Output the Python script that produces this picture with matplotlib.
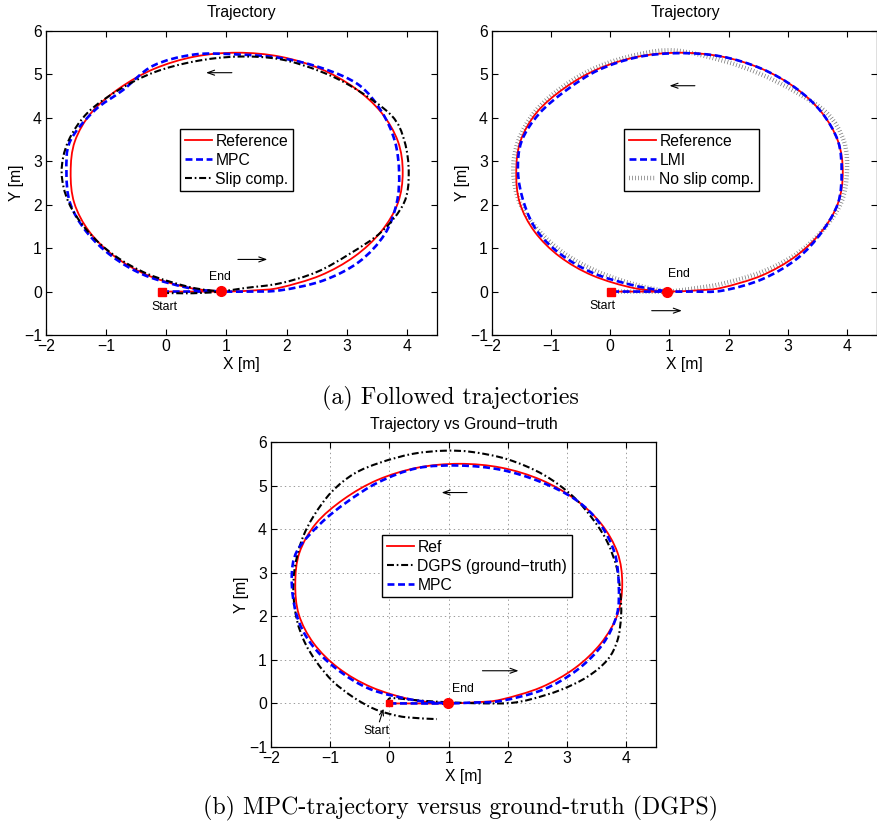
import matplotlib
matplotlib.use("Agg")
import matplotlib.pyplot as plt
from matplotlib.path import Path
from matplotlib.patches import PathPatch
from matplotlib.lines import Line2D

plt.rcParams['font.family'] = ['Liberation Sans', 'DejaVu Sans']
plt.rcParams['lines.scale_dashes'] = False
plt.rcParams['axes.linewidth'] = 0.9

# ---- reference trajectory (shared by all panels) ----
ref_x = [0.0, 0.5, 1.0, 1.5, 1.89, 2.56, 3.13, 3.57, 3.85, 3.93, 3.85, 3.57, 3.13, 2.56,
         1.89, 1.18, 0.47, -0.2, -0.77, -1.24, -1.52, -1.59, -1.53, -1.28, -0.86, -0.3,
         0.4, 1.0]
ref_y = [0.0, 0.0, 0.0, 0.03, 0.09, 0.37, 0.81, 1.38, 2.04, 2.75, 3.46, 4.13, 4.69, 5.13,
         5.41, 5.5, 5.41, 5.13, 4.69, 4.13, 3.46, 2.75, 2.04, 1.38, 0.81, 0.37,
         0.08, 0.0]

# ---- panel (a) left: MPC and slip compensation ----
mpc1_x = [-0.07, 0.4, 0.9, 1.4, 1.9, 2.6, 3.2, 3.63, 3.83, 3.87, 3.8, 3.58, 3.2, 2.58,
          1.89, 1.18, 0.47, -0.22, -0.72, -1.2, -1.6, -1.66, -1.6, -1.33, -0.9, -0.35,
          0.38, 0.9]
mpc1_y = [0.0, 0.0, 0.0, 0.0, 0.03, 0.25, 0.68, 1.32, 2.04, 2.75, 3.46, 4.14, 4.76, 5.15,
          5.38, 5.46, 5.46, 5.2, 4.64, 4.16, 3.46, 2.75, 2.04, 1.38, 0.81, 0.37,
          0.08, 0.0]

slip_x = [-0.07, 0.3, 0.6, 0.9, 1.3, 1.89, 2.5, 3.05, 3.58, 3.95, 4.03, 3.96, 3.74, 3.13,
          2.56, 1.89, 1.18, 0.47, -0.2, -0.77, -1.3, -1.63, -1.74, -1.62, -1.3, -0.86,
          -0.3, 0.4, 0.9]
slip_y = [-0.03, -0.04, -0.03, 0.0, 0.08, 0.19, 0.45, 0.87, 1.38, 2.04, 2.72, 3.46, 4.06,
          4.68, 5.07, 5.35, 5.41, 5.3, 5.05, 4.66, 4.13, 3.46, 2.75, 2.04, 1.38, 0.83,
          0.4, 0.1, 0.0]

# ---- panel (a) right: LMI and no slip compensation ----
lmi_x = [0.03, 0.5, 0.97, 1.4, 1.89, 2.56, 3.15, 3.57, 3.85, 3.91, 3.85, 3.57, 3.13, 2.56,
         1.89, 1.18, 0.47, -0.2, -0.74, -1.2, -1.5, -1.56, -1.46, -1.24, -0.84, -0.28,
         0.4, 0.97]
lmi_y = [0.0, 0.0, 0.0, 0.0, 0.02, 0.28, 0.75, 1.36, 2.04, 2.75, 3.46, 4.13, 4.69, 5.13,
         5.41, 5.49, 5.4, 5.1, 4.64, 4.1, 3.46, 2.75, 2.04, 1.4, 0.86, 0.42,
         0.14, 0.0]

noslip_x = [0.03, 0.5, 0.97, 1.4, 1.89, 2.56, 3.13, 3.57, 3.9, 4.0, 3.95, 3.67, 3.13, 2.52,
            1.89, 1.1, 0.47, -0.22, -0.8, -1.27, -1.56, -1.64, -1.53, -1.22, -0.78,
            -0.2, 0.45, 0.97]
noslip_y = [0.0, 0.0, 0.0, 0.07, 0.18, 0.45, 0.85, 1.38, 2.04, 2.75, 3.46, 4.1, 4.6, 5.02,
            5.32, 5.55, 5.46, 5.17, 4.72, 4.15, 3.46, 2.75, 2.04, 1.42, 0.88,
            0.45, 0.15, 0.0]

# ---- panel (b): ground truth and MPC ----
dgps_x = [-0.02, 0.02, 0.4, 0.8, 1.3, 1.7, 2.05, 2.4, 2.89, 3.34, 3.68, 3.85, 3.91, 3.9,
          3.84, 3.68, 3.45, 3.1, 2.6, 2.0, 1.4, 0.93, 0.4, -0.15, -0.6, -0.98, -1.28,
          -1.48, -1.6, -1.62, -1.56, -1.43, -1.22, -0.95, -0.62, -0.3, 0.0, 0.3, 0.8]
dgps_y = [0.0, 0.12, 0.08, 0.04, 0.01, 0.0, 0.01, 0.1, 0.31, 0.61, 1.0, 1.45, 2.0, 2.5,
          3.1, 3.7, 4.2, 4.75, 5.25, 5.6, 5.77, 5.8, 5.73, 5.53, 5.27, 4.85, 4.3,
          3.75, 3.1, 2.5, 1.9, 1.4, 0.93, 0.5, 0.15, -0.1, -0.24, -0.32, -0.36]

mpc2_x = [0.0, 0.5, 0.98, 1.4, 1.89, 2.6, 3.17, 3.6, 3.84, 3.87, 3.8, 3.55, 3.15, 2.56,
          1.89, 1.18, 0.47, -0.18, -0.72, -1.17, -1.56, -1.65, -1.57, -1.33, -0.9, -0.33,
          0.4, 0.98]
mpc2_y = [0.0, 0.0, 0.0, 0.02, 0.06, 0.32, 0.77, 1.36, 2.04, 2.75, 3.46, 4.13, 4.67, 5.08,
          5.36, 5.46, 5.4, 5.08, 4.62, 4.12, 3.5, 2.85, 2.04, 1.38, 0.8, 0.33,
          0.08, 0.0]

start_pts = [(-0.07, 0.0), (0.02, 0.0), (0.0, 0.0)]
end_pts = [(0.91, 0.02), (0.96, 0.0), (0.98, 0.0)]

W, H = 877, 827
fig = plt.figure(figsize=(W / 100, H / 100), dpi=100)

BOXES = {'a1': (46, 31, 437, 335), 'a2': (492, 31, 876.5, 335), 'b': (271, 442, 656, 747)}


def px_axes(left, top, right, bottom):
    return fig.add_axes([left / W, 1 - bottom / H, (right - left) / W, (bottom - top) / H])


ax1 = px_axes(*BOXES['a1'])
ax2 = px_axes(*BOXES['a2'])
ax3 = px_axes(*BOXES['b'])

FS = 11.3
RED = dict(color='#ff0000', lw=1.3, ls='-')
BLUE = dict(color='#0000ff', lw=1.9, ls=(0, (5.0, 2.6)))
DASHDOT = dict(color='black', lw=1.5, ls=(0, (5.0, 2.0, 1.2, 2.0)))
HATCH = dict(color='0.45', lw=3.2, ls=(0, (0.5, 1.7)))


def smooth_line(ax, xs, ys, style, z=2):
    """Draw a smooth curve through the listed points (Catmull-Rom as cubic Beziers)."""
    pts = list(zip(xs, ys))
    n = len(pts)
    verts = [pts[0]]
    codes = [Path.MOVETO]
    for i in range(n - 1):
        p0 = pts[max(i - 1, 0)]
        p1 = pts[i]
        p2 = pts[i + 1]
        p3 = pts[min(i + 2, n - 1)]
        c1 = (p1[0] + (p2[0] - p0[0]) / 6, p1[1] + (p2[1] - p0[1]) / 6)
        c2 = (p2[0] - (p3[0] - p1[0]) / 6, p2[1] - (p3[1] - p1[1]) / 6)
        verts += [c1, c2, p2]
        codes += [Path.CURVE4] * 3
    patch = PathPatch(Path(verts, codes), fill=False, edgecolor=style['color'],
                      lw=style['lw'], ls=style['ls'], capstyle='butt',
                      joinstyle='round', zorder=z)
    ax.add_patch(patch)
    return Line2D([], [], color=style['color'], lw=style['lw'], ls=style['ls'],
                  dash_capstyle='butt')


def style_axes(ax, box, grid=False):
    ax.set_xlim(-2, 4.5)
    ax.set_ylim(-1, 6)
    ax.set_xticks(range(-2, 5))
    ax.set_yticks(range(-1, 7))
    ax.tick_params(direction='in', top=True, right=True, length=4, width=0.8,
                   labelsize=FS, pad=3)
    ax.set_xlabel('X [m]', fontsize=FS)
    ax.set_ylabel('Y [m]', fontsize=FS)
    l, t, r, b = box
    ax.xaxis.set_label_coords(0.5, -22 / (b - t))
    ax.yaxis.set_label_coords(-22 / (r - l), 0.5)
    if grid:
        ax.grid(True, color='0.6', lw=0.7, ls=(0, (1, 2.2)))
        ax.set_axisbelow(True)


def legend(ax, handles, labels, left, top):
    lg = ax.legend(handles, labels, loc='upper left',
                   bbox_to_anchor=(left / W, 1 - top / H), bbox_transform=fig.transFigure,
                   borderaxespad=0, fancybox=False, framealpha=1, edgecolor='black',
                   fontsize=FS, handlelength=1.75, handletextpad=0.2,
                   labelspacing=0.25, borderpad=0.3)
    lg.get_frame().set_linewidth(1.0)
    return lg


def arrow(ax, x0, x1, y):
    ax.annotate('', xy=(x1, y), xytext=(x0, y),
                arrowprops=dict(arrowstyle='->,head_length=0.5,head_width=0.18',
                                lw=0.8, color='black', shrinkA=0, shrinkB=0))


# ---------------- left panel ----------------
h_ref = smooth_line(ax1, ref_x, ref_y, RED, 2)
h_mpc = smooth_line(ax1, mpc1_x, mpc1_y, BLUE, 3)
h_slip = smooth_line(ax1, slip_x, slip_y, DASHDOT, 4)
ax1.plot(*start_pts[0], 's', color='red', ms=6, zorder=5)
ax1.plot(*end_pts[0], 'o', color='red', ms=7, zorder=5)
ax1.text(-0.04, -0.36, 'Start', fontsize=8.8, ha='center', va='center')
ax1.text(0.89, 0.33, 'End', fontsize=8.8, ha='center', va='center')
arrow(ax1, 1.09, 0.66, 5.04)
arrow(ax1, 1.19, 1.68, 0.74)
style_axes(ax1, BOXES['a1'])
legend(ax1, [h_ref, h_mpc, h_slip], ['Reference', 'MPC', 'Slip comp.'], 180, 129)

# ---------------- right panel ----------------
h_ref2 = smooth_line(ax2, ref_x, ref_y, RED, 2)
h_ns = smooth_line(ax2, noslip_x, noslip_y, HATCH, 1.5)
h_lmi = smooth_line(ax2, lmi_x, lmi_y, BLUE, 3)
ax2.plot(*start_pts[1], 's', color='red', ms=6, zorder=5)
ax2.plot(*end_pts[1], 'o', color='red', ms=7, zorder=5)
ax2.text(-0.14, -0.33, 'Start', fontsize=8.8, ha='center', va='center')
ax2.text(1.16, 0.40, 'End', fontsize=8.8, ha='center', va='center')
arrow(ax2, 1.43, 1.0, 4.74)
arrow(ax2, 0.7, 1.21, -0.44)
style_axes(ax2, BOXES['a2'])
legend(ax2, [h_ref2, h_lmi, h_ns], ['Reference', 'LMI', 'No slip comp.'], 624, 129)

# ---------------- bottom panel ----------------
h_ref3 = smooth_line(ax3, ref_x, ref_y, RED, 2)
h_dgps = smooth_line(ax3, dgps_x, dgps_y, DASHDOT, 3)
h_mpc2 = smooth_line(ax3, mpc2_x, mpc2_y, BLUE, 4)
ax3.plot(*start_pts[2], 's', color='red', ms=5, zorder=5)
ax3.plot(*end_pts[2], 'o', color='red', ms=7, zorder=5)
ax3.annotate('Start', xy=(-0.1, -0.12), xytext=(-0.22, -0.64), fontsize=8.8,
             ha='center', va='center',
             arrowprops=dict(arrowstyle='->,head_length=0.45,head_width=0.17',
                             lw=0.8, color='black', shrinkA=0.5, shrinkB=0))
ax3.text(1.24, 0.32, 'End', fontsize=8.8, ha='center', va='center')
arrow(ax3, 1.31, 0.88, 4.84)
arrow(ax3, 1.57, 2.18, 0.75)
style_axes(ax3, BOXES['b'], grid=True)
legend(ax3, [h_ref3, h_dgps, h_mpc2], ['Ref', 'DGPS (ground\u2212truth)', 'MPC'], 382, 535)

fig.text(241.5 / W, 1 - 13 / H, 'Trajectory', fontsize=FS, ha='center', va='center')
fig.text(685.5 / W, 1 - 13 / H, 'Trajectory', fontsize=FS, ha='center', va='center')
fig.text(463.5 / W, 1 - 424 / H, 'Trajectory vs Ground\u2212truth', fontsize=FS,
         ha='center', va='center')

fig.text(450 / W, 1 - 398 / H, '(a) Followed trajectories', fontsize=17.2,
         family=['cmr10', 'DejaVu Serif'], ha='center', va='center')
fig.text(461 / W, 1 - 808 / H, '(b) MPC-trajectory versus ground-truth (DGPS)',
         fontsize=17.2, family=['cmr10', 'DejaVu Serif'], ha='center', va='center')

fig.savefig('out.png', dpi=100)
